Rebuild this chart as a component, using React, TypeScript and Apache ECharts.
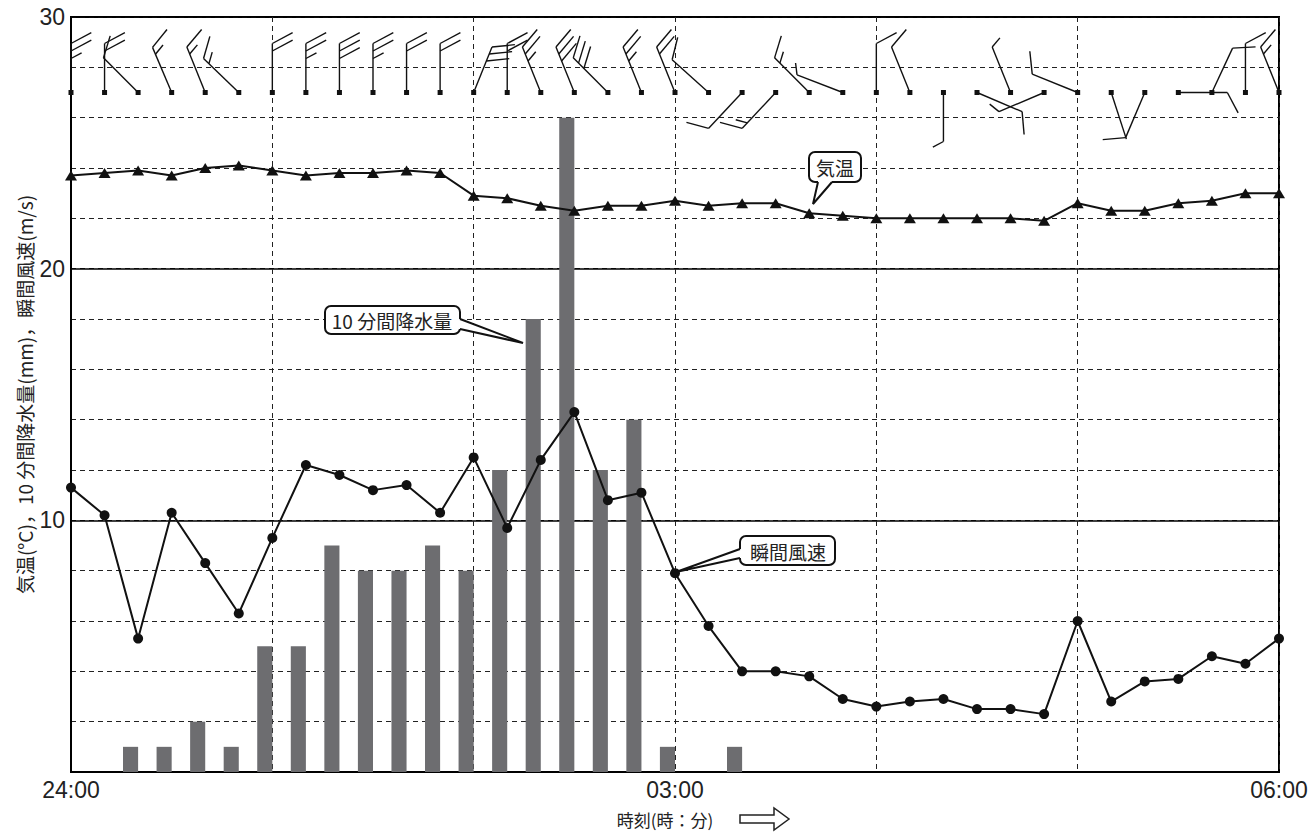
import React, { useEffect, useRef } from "react";
import * as echarts from "echarts";

// time in minutes after 24:00, every 10 minutes
const times = [0, 10, 20, 30, 40, 50, 60, 70, 80, 90, 100, 110, 120, 130, 140, 150, 160, 170, 180, 190, 200, 210, 220, 230, 240, 250, 260, 270, 280, 290, 300, 310, 320, 330, 340, 350, 360];
const xTickLabels = ["24:00", "", "", "03:00", "", "", "06:00"];
const yTickLabels = ["10", "20", "30"];

// 10-minute precipitation (mm), value for the preceding 10 minutes
const precip = [0, 0, 1, 1, 2, 1, 5, 5, 9, 8, 8, 9, 8, 12, 18, 26, 12, 14, 1, 0, 1, 0, 0, 0, 0, 0, 0, 0, 0, 0, 0, 0, 0, 0, 0, 0, 0];
// maximum instantaneous wind speed (m/s)
const windSpeed = [11.3, 10.2, 5.3, 10.3, 8.3, 6.3, 9.3, 12.2, 11.8, 11.2, 11.4, 10.3, 12.5, 9.7, 12.4, 14.3, 10.8, 11.1, 7.9, 5.8, 4.0, 4.0, 3.8, 2.9, 2.6, 2.8, 2.9, 2.5, 2.5, 2.3, 6.0, 2.8, 3.6, 3.7, 4.6, 4.3, 5.3];
// air temperature (°C)
const temperature = [23.7, 23.8, 23.9, 23.7, 24.0, 24.1, 23.9, 23.7, 23.8, 23.8, 23.9, 23.8, 22.9, 22.8, 22.5, 22.3, 22.5, 22.5, 22.7, 22.5, 22.6, 22.6, 22.2, 22.1, 22.0, 22.0, 22.0, 22.0, 22.0, 21.9, 22.6, 22.3, 22.3, 22.6, 22.7, 23.0, 23.0];
// wind barb: direction the staff points (degrees, 0 = up, clockwise)
const windDir = [0, 0, 315, 337, 338, 314, 0, 0, 0, 0, 0, 0, 22, 0, 338, 338, 315, 338, 338, 312, 223, 223, 315, 291, 0, 338, 180, 113, 338, 247, 292, 162, 203, 90, 25, 0, 338];
// wind barb feathers (1 = full feather, 0.5 = half feather)
const windFeathers = [2.5, 2, 1, 1.5, 1.5, 1.5, 2, 2.5, 3, 2.5, 2, 2, 3, 2, 2.5, 3, 3, 2.5, 2, 1, 1, 1.5, 1.5, 0.5, 1, 1, 0.5, 1, 0.5, 0.5, 1, 0, 1, 1, 1, 1, 1.5];
const stationLevel = 27;

const LATIN = '"Liberation Sans", Arial, "Noto Sans CJK JP", sans-serif';
const JP = '"Noto Sans CJK JP", "Liberation Sans", sans-serif';

export default function App() {
  const ref = useRef<HTMLDivElement>(null);
  useEffect(() => {
    if (!ref.current) return;
    const chart = echarts.init(ref.current, null, { renderer: "svg" });
    const dash = [5, 4];
    const option: any = {
      animation: false,
      backgroundColor: "#fff",
      grid: { left: 71, right: 33, top: 17, bottom: 60, show: true, borderColor: "#000", borderWidth: 2, backgroundColor: "transparent" },
      xAxis: {
        type: "value",
        min: 0,
        max: 360,
        interval: 60,
        axisLine: { show: true, lineStyle: { color: "#000", width: 2 } },
        axisTick: { show: false },
        axisLabel: {
          fontSize: 23,
          color: "#222",
          fontFamily: LATIN,
          margin: 6,
          formatter: (v: number) => xTickLabels[Math.round(v / 60)] ?? "",
        },
        splitLine: { show: true, lineStyle: { color: "#222", width: 1, type: dash } },
      },
      yAxis: [
        {
          type: "value",
          min: 0,
          max: 30,
          interval: 2,
          position: "left",
          name: "気温(°C)，10 分間降水量(mm)，瞬間風速(m/s)",
          nameLocation: "middle",
          nameRotate: 90,
          nameGap: 37,
          nameMoveOverlap: false,
          nameTextStyle: { fontSize: 19, color: "#222", fontFamily: JP },
          axisLine: { show: true, lineStyle: { color: "#000", width: 2 } },
          axisTick: { show: false },
          axisLabel: {
            fontSize: 23,
            color: "#222",
            fontFamily: LATIN,
            margin: 6,
            formatter: (v: number) => (v > 0 && v % 10 === 0 ? yTickLabels[v / 10 - 1] : ""),
          },
          splitLine: { show: true, lineStyle: { color: "#222", width: 1, type: dash } },
        },
        {
          type: "value",
          min: 0,
          max: 30,
          interval: 10,
          position: "left",
          axisLine: { show: false },
          axisTick: { show: false },
          axisLabel: { show: false },
          splitLine: { show: true, lineStyle: { color: "#000", width: 1.5, type: "solid" } },
        },
      ],
      series: [
        {
          type: "custom",
          name: "10 分間降水量",
          data: times.map((t, i) => [t, precip[i]]).filter((d) => d[1] > 0),
          z: 2,
          renderItem: (params: any, api: any) => {
            const t = api.value(0);
            const v = api.value(1);
            const top = api.coord([t, v]);
            const base = api.coord([t, 0]);
            const w = api.size([10, 0])[0] * 0.45;
            return {
              type: "rect",
              shape: { x: top[0] - w, y: top[1], width: w, height: base[1] - top[1] },
              style: { fill: "#6d6d70" },
            };
          },
        },
        {
          type: "line",
          name: "瞬間風速",
          data: times.map((t, i) => [t, windSpeed[i]]),
          symbol: "circle",
          symbolSize: 10,
          itemStyle: { color: "#111" },
          lineStyle: { color: "#111", width: 2 },
          z: 5,
        },
        {
          type: "line",
          name: "気温",
          data: times.map((t, i) => [t, temperature[i]]),
          symbol: "triangle",
          symbolSize: [12, 10],
          itemStyle: { color: "#111" },
          lineStyle: { color: "#111", width: 2 },
          z: 5,
        },
        {
          type: "custom",
          name: "風向風速",
          data: times.map((t, i) => [t, stationLevel, windDir[i], windFeathers[i]]),
          encode: { x: 0, y: 1 },
          z: 6,
          renderItem: (params: any, api: any) => {
            const t = api.value(0);
            const lvl = api.value(1);
            const dir = api.value(2);
            const f = api.value(3);
            const c = api.coord([t, lvl]);
            const L = 49, FL = 23, HL = 12, SP = 7.5, FA = 62;
            const r = (dir * Math.PI) / 180;
            const ux = Math.sin(r), uy = -Math.cos(r);
            const rf = ((dir + FA) * Math.PI) / 180;
            const fx = Math.sin(rf), fy = -Math.cos(rf);
            const tip = [c[0] + ux * L, c[1] + uy * L];
            const ls = { stroke: "#111", lineWidth: 1.4 };
            const children: any[] = [
              { type: "line", shape: { x1: c[0], y1: c[1], x2: tip[0], y2: tip[1] }, style: ls },
            ];
            const full = Math.floor(f);
            const half = f - full >= 0.5;
            for (let k = 0; k < full; k++) {
              const bx = tip[0] - ux * SP * k, by = tip[1] - uy * SP * k;
              children.push({ type: "line", shape: { x1: bx, y1: by, x2: bx + fx * FL, y2: by + fy * FL }, style: ls });
            }
            if (half) {
              const k = full;
              const bx = tip[0] - ux * SP * k, by = tip[1] - uy * SP * k;
              children.push({ type: "line", shape: { x1: bx, y1: by, x2: bx + fx * HL, y2: by + fy * HL }, style: ls });
            }
            children.push({ type: "rect", shape: { x: c[0] - 2.5, y: c[1] - 2.5, width: 5, height: 5 }, style: { fill: "#111" } });
            return { type: "group", children };
          },
        },
      ],
      graphic: [
        // 気温 callout
        { type: "rect", shape: { x: 809, y: 152, width: 52, height: 30, r: 6 }, style: { fill: "#fff", stroke: "#111", lineWidth: 2 }, z: 100 },
        { type: "polygon", shape: { points: [[818, 176], [832, 176], [832, 182], [813, 204], [818, 182]] }, style: { fill: "#fff" }, z: 101 },
        { type: "polyline", shape: { points: [[818, 182], [813, 204], [832, 182]] }, style: { stroke: "#111", lineWidth: 2, fill: "none" }, z: 102 },
        { type: "text", x: 835, y: 167, style: { text: "気温", font: `19px ${JP}`, fill: "#222", align: "center", verticalAlign: "middle" }, z: 103 },
        // 10 分間降水量 callout
        { type: "rect", shape: { x: 325, y: 306, width: 135, height: 28, r: 6 }, style: { fill: "#fff", stroke: "#111", lineWidth: 2 }, z: 100 },
        { type: "polygon", shape: { points: [[454, 319], [460, 319], [523, 343], [460, 329], [454, 329]] }, style: { fill: "#fff" }, z: 101 },
        { type: "polyline", shape: { points: [[460, 319], [523, 343], [460, 329]] }, style: { stroke: "#111", lineWidth: 2, fill: "none" }, z: 102 },
        { type: "text", x: 392, y: 320, style: { text: "10 分間降水量", font: `19px ${JP}`, fill: "#222", align: "center", verticalAlign: "middle" }, z: 103 },
        // 瞬間風速 callout
        { type: "rect", shape: { x: 740, y: 536, width: 95, height: 29, r: 6 }, style: { fill: "#fff", stroke: "#111", lineWidth: 2 }, z: 100 },
        { type: "polygon", shape: { points: [[746, 549], [740, 549], [676, 572], [740, 558], [746, 558]] }, style: { fill: "#fff" }, z: 101 },
        { type: "polyline", shape: { points: [[740, 549], [676, 572], [740, 558]] }, style: { stroke: "#111", lineWidth: 2, fill: "none" }, z: 102 },
        { type: "text", x: 788, y: 551, style: { text: "瞬間風速", font: `19px ${JP}`, fill: "#222", align: "center", verticalAlign: "middle" }, z: 103 },
        // x axis name + arrow
        { type: "text", x: 665, y: 819, style: { text: "時刻(時：分)", font: `17px ${JP}`, fill: "#222", align: "center", verticalAlign: "middle" }, z: 103 },
        { type: "polygon", shape: { points: [[740, 815], [774, 815], [774, 808], [789, 819], [774, 830], [774, 823], [740, 823]] }, style: { fill: "#fff", stroke: "#222", lineWidth: 1.5 }, z: 103 },
      ],
    };
    chart.setOption(option);
    return () => chart.dispose();
  }, []);
  return <div ref={ref} style={{ position: "fixed", left: 0, top: 0, width: 1312, height: 832, background: "#fff" }} />;
}
